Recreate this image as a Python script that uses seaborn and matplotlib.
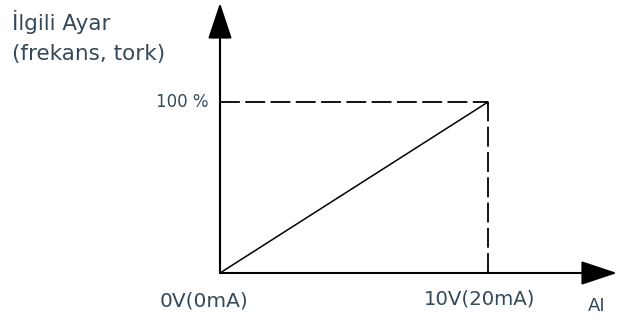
import matplotlib
matplotlib.use('Agg')
import matplotlib.pyplot as plt
import seaborn as sns

# data: analog input (V) vs related setting (%)
x_volts = [0, 10]
y_percent = [0, 100]
x_tick_labels = ['0V(0mA)', '10V(20mA)']
y_tick_label = '100 %'
y_title = 'İlgili Ayar\n(frekans, tork)'
x_title = 'AI'

sns.set_style('white')
plt.rcParams['font.family'] = ['DejaVu Sans']
txt_color = '#34495a'

fig = plt.figure(figsize=(6.19, 3.2), dpi=100)
ax = fig.add_axes([0, 0, 1, 1])
# map data to pixels: origin at (220,273), x=10 at 488, y=100 at 102
px_x = (488 - 220) / 10
px_y = (273 - 102) / 100
ax.set_xlim(-220 / px_x, (619 - 220) / px_x)
ax.set_ylim(-(320 - 273) / px_y, 273 / px_y)
ax.axis('off')

# diagonal line
sns.lineplot(x=x_volts, y=y_percent, ax=ax, color='black', linewidth=1.1)

# dashed guides
ax.plot([x_volts[0], x_volts[1]], [y_percent[1], y_percent[1]], color='black',
        linewidth=1.3, dashes=(11, 3))
ax.plot([x_volts[1], x_volts[1]], [y_percent[0], y_percent[1]], color='black',
        linewidth=1.3, dashes=(11, 3))

# axes with arrows
arrow = dict(arrowstyle='-|>,head_length=1.5,head_width=0.5', mutation_scale=15,
             color='black', lw=1.5, shrinkA=0, shrinkB=0)
ax.annotate('', xy=(0, 270 / px_y), xytext=(0, 0), arrowprops=arrow)
ax.annotate('', xy=((617 - 220) / px_x, 0), xytext=(0, 0), arrowprops=arrow)

# labels
ax.annotate(y_tick_label, xy=(0, y_percent[1]), xytext=(-8.5, 0), textcoords='offset points',
            ha='right', va='center', fontsize=12, color=txt_color)
ax.annotate(x_tick_labels[0], xy=(x_volts[0], 0), xytext=(-11.5, -20), textcoords='offset points',
            ha='center', va='center', fontsize=14.5, color=txt_color)
ax.annotate(x_tick_labels[1], xy=(x_volts[1], 0), xytext=(-5.8, -19), textcoords='offset points',
            ha='center', va='center', fontsize=14.2, color=txt_color)
ax.annotate(x_title, xy=(x_volts[1], 0), xytext=(78, -24), textcoords='offset points',
            ha='center', va='center', fontsize=13, color=txt_color)
ax.text(12 / 619, 1 - 10 / 320, y_title, transform=ax.transAxes, ha='left', va='top',
        fontsize=15.5, color=txt_color, linespacing=1.6)

fig.savefig('out.png', dpi=100)
